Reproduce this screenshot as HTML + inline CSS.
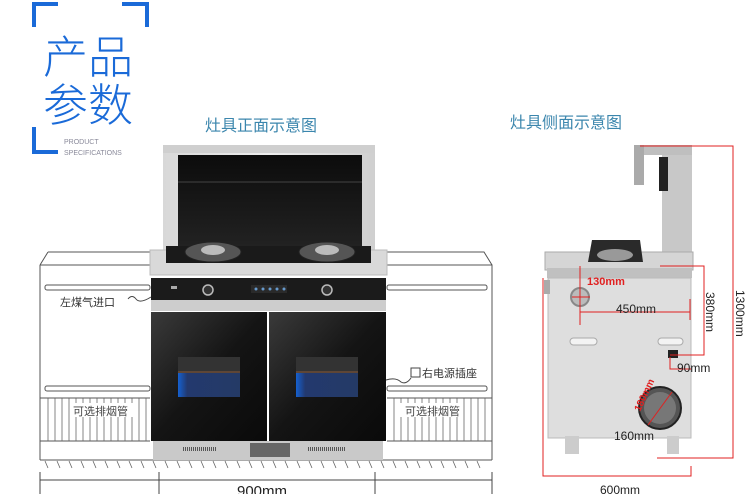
<!DOCTYPE html>
<html><head><meta charset="utf-8"><style>
html,body{margin:0;padding:0;background:#fff;}
svg{display:block;font-family:"Liberation Sans","Noto Sans CJK SC",sans-serif;}
</style></head><body>
<svg width="750" height="494" viewBox="0 0 750 494" xmlns="http://www.w3.org/2000/svg">
<defs>
<linearGradient id="door" x1="0" y1="0" x2="1" y2="1"><stop offset="0" stop-color="#3a3a3a"/><stop offset="0.5" stop-color="#141414"/><stop offset="1" stop-color="#0a0a0a"/></linearGradient>
<linearGradient id="glass" x1="0" y1="0" x2="0" y2="1"><stop offset="0" stop-color="#0c0c0c"/><stop offset="1" stop-color="#222"/></linearGradient>
<linearGradient id="steel" x1="0" y1="0" x2="1" y2="0"><stop offset="0" stop-color="#d8d8d8"/><stop offset="0.5" stop-color="#eeeeee"/><stop offset="1" stop-color="#cfcfcf"/></linearGradient>
<linearGradient id="blue" x1="0" y1="0" x2="1" y2="0"><stop offset="0" stop-color="#1560d0"/><stop offset="0.15" stop-color="#23396e"/><stop offset="1" stop-color="#243a66"/></linearGradient>
</defs>

<g fill="#1a6ad8">
<rect x="32" y="2" width="4" height="25"/><rect x="32" y="2" width="26" height="4"/>
<rect x="145" y="2" width="4" height="25"/><rect x="122" y="2" width="27" height="4"/>
<rect x="32" y="127" width="4" height="27"/><rect x="32" y="150" width="26" height="4"/>
</g>
<text x="43" y="73" font-size="45" fill="#1a6ad8" font-family="Noto Sans CJK SC,sans-serif" font-weight="300">产品</text>
<text x="43" y="121" font-size="45" fill="#1a6ad8" font-family="Noto Sans CJK SC,sans-serif" font-weight="300">参数</text>
<text x="64" y="144" font-size="7" fill="#8a8a9a">PRODUCT</text>
<text x="64" y="155" font-size="7" fill="#8a8a9a">SPECIFICATIONS</text>

<text x="205" y="131" font-size="16" fill="#3b86ad">灶具正面示意图</text>
<text x="510" y="128" font-size="16" fill="#3b86ad">灶具侧面示意图</text>

<g fill="none" stroke="#555" stroke-width="1">
<path d="M40 265 L40 460 M40 265 L150 265 M48 252 L150 252 M40 265 L48 252"/>
<rect x="45" y="285" width="105" height="5" rx="2"/>
<rect x="45" y="386" width="105" height="5" rx="2"/>
<line x1="40" y1="398" x2="150" y2="398"/><line x1="40" y1="441" x2="150" y2="441"/>
<path d="M387 265 L492 265 L492 460 M387 252 L484 252 L492 265"/>
<rect x="387" y="285" width="100" height="5" rx="2"/>
<rect x="387" y="386" width="100" height="5" rx="2"/>
<line x1="387" y1="398" x2="492" y2="398"/><line x1="387" y1="441" x2="492" y2="441"/>
<line x1="40" y1="460" x2="492" y2="460"/>
</g>
<g stroke="#666" stroke-width="0.8">
<path d="M48 398v43M55 398v43M62 398v43M69 398v43M76 398v43M83 398v43M90 398v43M97 398v43M104 398v43M111 398v43M118 398v43M125 398v43M132 398v43M139 398v43M146 398v43"/>
<path d="M394 398v43M401 398v43M408 398v43M415 398v43M422 398v43M429 398v43M436 398v43M443 398v43M450 398v43M457 398v43M464 398v43M471 398v43M478 398v43M485 398v43"/>
<path d="M45 461l3 7M57 461l3 7M69 461l3 7M81 461l3 7M93 461l3 7M105 461l3 7M117 461l3 7M129 461l3 7M141 461l3 7M153 461l3 7M165 461l3 7M177 461l3 7M189 461l3 7M201 461l3 7M213 461l3 7M225 461l3 7M237 461l3 7M249 461l3 7M261 461l3 7M273 461l3 7M285 461l3 7M297 461l3 7M309 461l3 7M321 461l3 7M333 461l3 7M345 461l3 7M357 461l3 7M369 461l3 7M381 461l3 7M393 461l3 7M405 461l3 7M417 461l3 7M429 461l3 7M441 461l3 7M453 461l3 7M465 461l3 7M477 461l3 7"/>
</g>
<rect x="70" y="403" width="63" height="14" fill="#fff"/>
<text x="73" y="415" font-size="11" fill="#444">可选排烟管</text>
<rect x="400" y="403" width="63" height="14" fill="#fff"/>
<text x="405" y="415" font-size="11" fill="#444">可选排烟管</text>
<g stroke="#444" stroke-width="1"><line x1="40" y1="480" x2="492" y2="480"/><line x1="40" y1="472" x2="40" y2="494"/><line x1="159" y1="472" x2="159" y2="494"/><line x1="375" y1="472" x2="375" y2="494"/><line x1="492" y1="472" x2="492" y2="494"/></g>
<text x="237" y="496" font-size="15" fill="#222">900mm</text>

<rect x="163" y="145" width="212" height="110" fill="url(#steel)"/>
<rect x="163" y="145" width="212" height="8" fill="#cfcfcf"/>
<rect x="178" y="155" width="184" height="92" fill="url(#glass)"/>
<line x1="178" y1="182" x2="362" y2="182" stroke="#444"/>
<rect x="150" y="250" width="237" height="25" fill="#d9d9d9" stroke="#bbb"/>
<rect x="166" y="246" width="205" height="17" fill="#1a1a1a"/>
<g fill="#555" stroke="#222"><ellipse cx="213" cy="252" rx="28" ry="10"/><ellipse cx="327" cy="252" rx="28" ry="10"/></g>
<g fill="#bbb"><ellipse cx="213" cy="250" rx="12" ry="5"/><ellipse cx="327" cy="250" rx="12" ry="5"/></g>
<rect x="151" y="278" width="235" height="22" fill="#1b1b1b"/>
<circle cx="208" cy="290" r="5" fill="#333" stroke="#bbb" stroke-width="1.5"/>
<circle cx="327" cy="290" r="5" fill="#333" stroke="#bbb" stroke-width="1.5"/>
<rect x="171" y="286" width="6" height="3" fill="#aaa"/>
<rect x="251" y="285" width="36" height="8" fill="#2a2a2a"/>
<g fill="#69c"><circle cx="256" cy="289" r="1.5"/><circle cx="263" cy="289" r="1.5"/><circle cx="270" cy="289" r="1.5"/><circle cx="277" cy="289" r="1.5"/><circle cx="284" cy="289" r="1.5"/></g>
<rect x="151" y="300" width="235" height="11" fill="#cdcdcd"/>
<rect x="151" y="312" width="116" height="129" fill="url(#door)"/>
<rect x="269" y="312" width="117" height="129" fill="url(#door)"/>
<rect x="178" y="357" width="62" height="40" fill="#333"/>
<rect x="178" y="373" width="62" height="24" fill="url(#blue)"/>
<line x1="178" y1="372" x2="240" y2="372" stroke="#8a5a3a"/>
<rect x="296" y="357" width="62" height="40" fill="#333"/>
<rect x="296" y="373" width="62" height="24" fill="url(#blue)"/>
<line x1="296" y1="372" x2="358" y2="372" stroke="#8a5a3a"/>
<rect x="153" y="441" width="230" height="19" fill="#c9c9c9"/>
<rect x="250" y="443" width="40" height="14" fill="#666"/>
<g stroke="#555"><line x1="183" y1="449" x2="217" y2="449" stroke-width="4" stroke-dasharray="1 1"/><line x1="308" y1="449" x2="346" y2="449" stroke-width="4" stroke-dasharray="1 1"/></g>
<text x="60" y="306" font-size="11" fill="#333">左煤气进口</text>
<path d="M128 299 q4 -5 8 0 q4 5 15 -2" fill="none" stroke="#444"/>
<rect x="411" y="368" width="9" height="9" fill="none" stroke="#444"/>
<text x="422" y="377" font-size="11" fill="#333">右电源插座</text>
<path d="M386 380 q10 -3 15 2 q5 3 10 -4" fill="none" stroke="#444"/>

<rect x="634" y="145" width="58" height="10" fill="#bfbfbf"/>
<rect x="634" y="145" width="10" height="40" fill="#aaa"/>
<rect x="662" y="155" width="30" height="112" fill="#c8c8c8"/>
<rect x="659" y="157" width="9" height="34" fill="#222"/>
<rect x="545" y="252" width="148" height="18" fill="#d5d5d5" stroke="#aaa"/>
<rect x="547" y="268" width="145" height="10" fill="#c0c0c0"/>
<rect x="548" y="278" width="143" height="160" fill="#dedede" stroke="#bbb"/>
<rect x="544" y="280" width="6" height="14" fill="#aaa"/>
<path d="M588 262 L592 240 L640 240 L643 262 Z" fill="#2a2a2a"/>
<ellipse cx="615" cy="255" rx="18" ry="6" fill="#999"/>
<circle cx="580" cy="297" r="9" fill="#bbb" stroke="#888" stroke-width="2"/>
<rect x="570" y="338" width="27" height="7" rx="3.5" fill="#f3f3f3" stroke="#aaa"/>
<rect x="658" y="338" width="25" height="7" rx="3.5" fill="#f3f3f3" stroke="#aaa"/>
<rect x="668" y="350" width="10" height="8" fill="#222"/>
<circle cx="660" cy="408" r="21" fill="#555" stroke="#222" stroke-width="2"/>
<circle cx="660" cy="408" r="16" fill="#777"/>
<rect x="565" y="436" width="14" height="18" fill="#ccc"/>
<rect x="667" y="436" width="12" height="18" fill="#ccc"/>
<g stroke="#e02020" stroke-width="1" fill="none">
<path d="M640 146 H733 V458 H657"/>
<path d="M543 278 V476 H691 V466"/>
<path d="M580 266 V325 M580 312 H690 M690 299 V320"/>
<path d="M660 266 H704 V355 H670 M670 357 V369 H691"/>
<line x1="572" y1="297" x2="590" y2="297"/><line x1="580" y1="290" x2="580" y2="304"/>
<line x1="648" y1="425" x2="672" y2="392"/>
</g>
<text x="587" y="285" font-size="11" fill="#e02020" font-weight="bold">130mm</text>
<text x="616" y="313" font-size="12" fill="#222">450mm</text>
<text x="677" y="372" font-size="12" fill="#222">90mm</text>
<text x="614" y="440" font-size="12" fill="#222">160mm</text>
<text x="600" y="494" font-size="12" fill="#222">600mm</text>
<text transform="translate(706,292) rotate(90)" font-size="12" fill="#222">380mm</text>
<text transform="translate(736,290) rotate(90)" font-size="12" fill="#222">1300mm</text>
<text transform="translate(640,412) rotate(-65)" font-size="10" fill="#e02020" font-weight="bold">180mm</text>
</svg>
</body></html>
